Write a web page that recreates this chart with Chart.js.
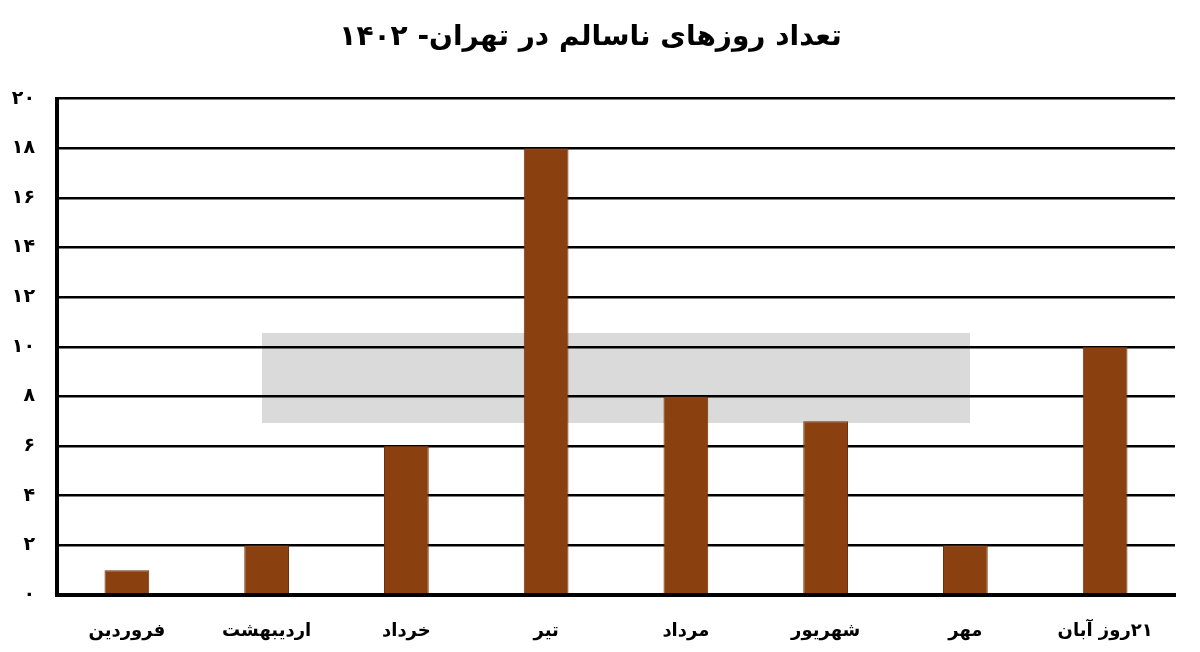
<!DOCTYPE html>
<html>
<head>
<meta charset="utf-8">
<script src="https://cdn.jsdelivr.net/npm/chart.js@4.4.0/dist/chart.umd.min.js"></script>
<style>
  html, body { margin: 0; padding: 0; background: #fff; }
  #wrap { width: 1200px; height: 652px; }
</style>
</head>
<body>
<div id="wrap"><canvas id="days-chart" dir="rtl"></canvas></div>
<script>
// Chart data
const chartTitle = 'تعداد روزهای ناسالم در تهران- ۱۴۰۲';
const months = ['فروردین', 'اردیبهشت', 'خرداد', 'تیر', 'مرداد', 'شهریور', 'مهر', '۲۱روز آبان'];
const unhealthyDays = [1, 2, 6, 18, 8, 7, 2, 10];
const yTickLabels = ['۰', '۲', '۴', '۶', '۸', '۱۰', '۱۲', '۱۴', '۱۶', '۱۸', '۲۰'];

const fontFamily = '"DejaVu Sans", sans-serif';

// light grey watermark band behind the bars
const watermarkBand = {
  id: 'watermarkBand',
  beforeDatasetsDraw(chart) {
    const ctx = chart.ctx;
    ctx.save();
    ctx.globalCompositeOperation = 'destination-over';
    ctx.fillStyle = 'rgba(205, 205, 205, 0.75)';
    ctx.fillRect(262, 333, 708, 90);
    ctx.restore();
  }
};

new Chart(document.getElementById('days-chart'), {
  type: 'bar',
  data: {
    labels: months,
    datasets: [
      {
        data: unhealthyDays,
        backgroundColor: '#8B4010',
        borderColor: '#6a2f0a',
        borderWidth: 1,
        barPercentage: 0.32,
        categoryPercentage: 1,
      },
    ],
  },
  options: {
    responsive: true,
    maintainAspectRatio: false,
    animation: false,
    layout: { padding: { left: 6, right: 25, top: 8, bottom: 0 } },
    plugins: {
      legend: { display: false },
      tooltip: { enabled: false },
      title: {
        display: true,
        text: chartTitle,
        color: '#000',
        font: { family: fontFamily, size: 28, weight: 'bold' },
        padding: { top: 13, bottom: 44 },
      },
    },
    scales: {
      x: {
        grid: { display: false },
        border: { display: true, color: '#000', width: 4 },
        ticks: {
          color: '#000',
          font: { family: fontFamily, size: 18, weight: 'bold' },
          padding: 18,
          maxRotation: 0,
        },
        afterFit: (scale) => { scale.height = 57; },
      },
      y: {
        min: 0,
        max: 20,
        grid: {
          color: '#000',
          lineWidth: (ctx) => (ctx.tick && ctx.tick.value === 0 ? 4 : 2.5),
          drawTicks: false,
        },
        border: { display: true, color: '#000', width: 4 },
        ticks: {
          stepSize: 2,
          color: '#000',
          padding: 22,
          font: { family: fontFamily, size: 19, weight: 'bold' },
          callback: (value, index) => yTickLabels[index],
        },
        afterFit: (scale) => { scale.width = 51; },
      },
    },
  },
  plugins: [watermarkBand],
});
</script>
</body>
</html>
